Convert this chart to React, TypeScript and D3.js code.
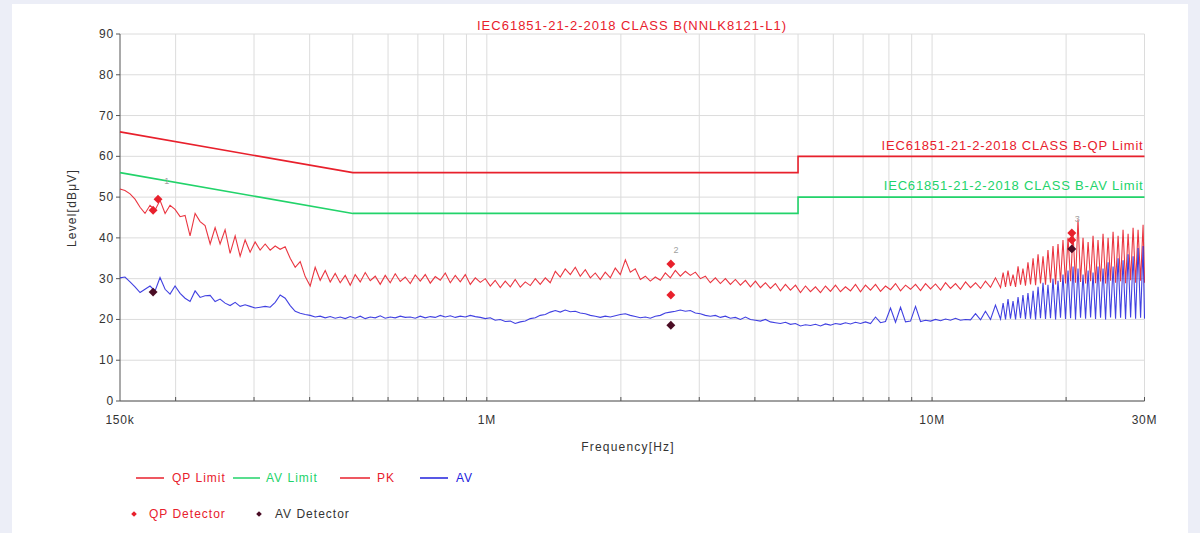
import React from 'react';
import * as d3 from 'd3';

// Sweep frequencies (MHz) shared by PK and AV traces
const sweepMHz: number[] = [
  0.1500, 0.1539, 0.1580, 0.1621, 0.1664, 0.1707, 0.1752, 0.1798, 0.1845, 0.1894,
  0.1943, 0.1994, 0.2047, 0.2100, 0.2155, 0.2212, 0.2270, 0.2329, 0.2391, 0.2453,
  0.2517, 0.2583, 0.2651, 0.2721, 0.2792, 0.2865, 0.2940, 0.3017, 0.3096, 0.3178,
  0.3261, 0.3347, 0.3434, 0.3524, 0.3617, 0.3712, 0.3809, 0.3909, 0.4011, 0.4116,
  0.4224, 0.4335, 0.4449, 0.4565, 0.4685, 0.4808, 0.4934, 0.5063, 0.5196, 0.5332,
  0.5472, 0.5615, 0.5762, 0.5913, 0.6068, 0.6227, 0.6391, 0.6558, 0.6730, 0.6906,
  0.7087, 0.7273, 0.7464, 0.7659, 0.7860, 0.8066, 0.8278, 0.8495, 0.8717, 0.8946,
  0.9180, 0.9421, 0.9668, 0.9921, 1.018, 1.044, 1.072, 1.100, 1.129, 1.158,
  1.189, 1.220, 1.252, 1.285, 1.318, 1.353, 1.388, 1.425, 1.462, 1.500,
  1.540, 1.580, 1.621, 1.664, 1.708, 1.752, 1.798, 1.845, 1.894, 1.943,
  1.994, 2.047, 2.100, 2.155, 2.212, 2.270, 2.329, 2.390, 2.453, 2.517,
  2.583, 2.651, 2.720, 2.792, 2.865, 2.940, 3.017, 3.096, 3.177, 3.261,
  3.346, 3.434, 3.524, 3.616, 3.711, 3.809, 3.909, 4.011, 4.116, 4.224,
  4.335, 4.448, 4.565, 4.685, 4.808, 4.934, 5.063, 5.196, 5.332, 5.472,
  5.615, 5.762, 5.913, 6.068, 6.227, 6.390, 6.558, 6.730, 6.906, 7.087,
  7.273, 7.464, 7.659, 7.860, 8.066, 8.278, 8.495, 8.717, 8.946, 9.180,
  9.421, 9.668, 9.921, 10.18, 10.45, 10.72, 11.00, 11.29, 11.58, 11.89,
  12.20, 12.52, 12.85, 13.18, 13.53, 13.88, 14.25,
  14.44, 14.62, 14.81, 15.00, 15.20, 15.40, 15.60, 15.80, 16.00, 16.21,
  16.42, 16.64, 16.86, 17.08, 17.30, 17.52, 17.75, 17.98, 18.21, 18.45,
  18.69, 18.94, 19.18, 19.43, 19.68, 19.94, 20.20, 20.47, 20.73, 21.00,
  21.27, 21.55, 21.83, 22.12, 22.41, 22.70, 22.99, 23.29, 23.59, 23.90,
  24.21, 24.53, 24.85, 25.17, 25.50, 25.83, 26.17, 26.51, 26.85, 27.20,
  27.56, 27.92, 28.28, 28.65, 29.02, 29.40, 29.78, 30.00,
];

// PK trace (dBuV)
const pkLevels: number[] = [
  52.0, 51.6, 50.8, 49.5, 47.5, 46.0, 48.0, 46.8, 49.2, 46.0,
  48.0, 47.0, 45.2, 45.5, 40.5, 46.0, 44.0, 43.0, 38.5, 42.5,
  38.5, 42.0, 36.2, 40.5, 35.5, 39.5, 36.5, 39.0, 37.0, 38.5,
  37.0, 38.0, 37.2, 37.8, 35.0, 32.8, 34.2, 30.5, 28.2, 32.8,
  29.6, 32.0, 29.2, 31.3, 29.0, 30.8, 28.4, 31.0, 29.2, 31.5,
  29.5, 30.6, 28.6, 30.8, 29.0, 31.2, 29.3, 30.4, 28.8, 30.9,
  29.4, 31.0, 28.9, 30.5, 29.6, 31.4, 29.0, 30.8, 29.2, 31.0,
  28.6, 30.2, 29.1, 30.0, 28.2, 29.6, 27.8, 29.4, 28.0, 29.8,
  27.9, 29.2, 28.3, 30.0, 28.6, 30.2, 29.0, 31.8, 30.4, 32.4,
  31.0, 32.8, 30.6, 32.2, 30.2, 31.4, 29.8, 31.6, 30.2, 32.6,
  31.0, 34.6, 31.6, 32.4, 29.8, 30.6, 29.4, 30.4, 29.6, 31.4,
  30.2, 32.0, 30.6, 31.8, 30.8, 31.6, 30.0, 30.6, 29.0, 30.2,
  28.8, 30.0, 28.6, 29.8, 28.4, 29.6, 28.0, 29.4, 27.8, 29.0,
  27.6, 28.8, 27.0, 28.6, 27.2, 28.4, 26.6, 28.2, 26.8, 28.0,
  26.6, 28.2, 26.9, 28.4, 26.8, 28.0, 27.0, 28.6, 26.8, 28.4,
  27.2, 28.6, 26.9, 28.2, 27.3, 28.8, 27.0, 28.4, 27.4, 28.6,
  27.1, 28.8, 27.5, 28.7, 27.2, 29.0, 27.6, 28.8, 27.4, 29.2,
  27.8, 29.0, 27.6, 29.4, 27.9, 30.2, 27.8,
  31.5, 28.0, 32.0, 28.2, 31.0, 28.0, 33.0, 28.5, 32.5, 28.3,
  34.0, 28.6, 35.0, 28.4, 36.0, 28.8, 35.5, 28.5, 37.0, 29.0,
  38.0, 28.6, 38.5, 29.2, 39.5, 28.8, 40.0, 29.4, 41.0, 29.0,
  44.5, 29.2, 40.0, 28.8, 39.0, 29.4, 40.5, 28.9, 39.5, 29.3,
  41.0, 28.8, 40.0, 29.5, 41.5, 29.0, 40.5, 29.4, 42.0, 28.9,
  41.0, 29.6, 42.5, 29.0, 42.0, 29.5, 43.2, 29.0,
];

// AV trace (dBuV)
const avLevels: number[] = [
  30.2, 30.4, 29.2, 28.0, 26.6, 27.4, 28.2, 27.0, 30.3, 27.4,
  26.2, 28.2, 26.4, 25.2, 24.4, 27.0, 25.4, 25.8, 25.9, 24.4,
  25.0, 24.0, 23.4, 24.2, 23.2, 23.6, 23.2, 22.8, 23.0, 23.2,
  23.0, 24.2, 26.0, 25.2, 23.4, 22.0, 21.5, 21.2, 21.0, 20.6,
  20.8, 20.4, 20.7, 20.3, 20.6, 20.2, 20.7, 20.3, 20.8, 20.2,
  20.6, 20.4, 20.9, 20.3, 20.6, 20.4, 20.8, 20.5, 20.6, 20.3,
  20.8, 20.4, 20.7, 20.5, 21.0, 20.6, 20.9, 20.5, 20.8, 20.6,
  21.0, 20.7, 20.5, 20.2, 20.4, 19.8, 20.0, 19.5, 19.6, 19.0,
  19.4, 19.6, 20.2, 20.4, 21.0, 21.2, 21.8, 22.2, 21.8, 22.3,
  21.9, 22.0, 21.6, 21.4, 21.0, 20.8, 20.5, 20.8, 20.6, 20.9,
  21.2, 21.4, 21.0, 20.7, 20.4, 20.6, 20.3, 20.8, 21.0, 21.6,
  21.8, 22.0, 22.3, 22.0, 22.2, 21.6, 21.4, 21.0, 20.8, 21.0,
  20.5, 20.8, 20.3, 20.5, 20.0, 20.6, 20.0, 19.8, 19.6, 20.0,
  19.4, 19.2, 19.0, 19.3, 18.8, 19.0, 18.4, 18.7, 18.5, 18.8,
  18.4, 18.9, 18.6, 19.0, 18.8, 19.2, 18.9, 19.3, 19.0, 19.4,
  19.0, 20.6, 19.2, 19.5, 22.8, 19.3, 23.0, 19.4, 19.6, 23.2,
  19.5, 19.8, 19.6, 20.0, 19.7, 20.1, 19.8, 20.3, 19.8, 20.0,
  19.9, 21.4, 19.9, 22.0, 20.0, 23.5, 20.1,
  24.0, 20.0, 25.0, 20.2, 24.5, 20.0, 25.5, 20.3, 26.0, 20.1,
  26.5, 20.2, 27.0, 20.0, 28.0, 20.3, 29.0, 20.1, 28.5, 20.3,
  30.0, 20.0, 29.5, 20.4, 31.0, 20.1, 32.0, 20.3, 33.0, 20.0,
  32.5, 20.4, 31.0, 20.2, 32.0, 20.5, 31.5, 20.1, 33.0, 20.4,
  32.5, 20.0, 34.0, 20.5, 33.0, 20.2, 35.0, 20.4, 34.5, 20.1,
  36.0, 20.5, 35.5, 20.2, 37.5, 20.4, 38.0, 20.2,
];

// Limit lines [MHz, dBuV]
const qpLimit: [number, number][] = [[0.15, 66], [0.5, 56], [5, 56], [5, 60], [30, 60]];
const avLimit: [number, number][] = [[0.15, 56], [0.5, 46], [5, 46], [5, 50], [30, 50]];

// Final detector readings [MHz, dBuV]
const qpDetector: [number, number][] = [
  [0.178, 46.8], [0.1826, 49.5], [2.59, 33.6], [2.59, 26.0], [20.6, 41.2], [20.6, 39.5],
];
const avDetector: [number, number][] = [[0.178, 26.7], [2.59, 18.6], [20.6, 37.3]];
const markerTags = [
  { f: 0.191, level: 53.2, text: '1' },
  { f: 2.66, level: 36.4, text: '2' },
  { f: 21.2, level: 43.8, text: '3' },
];

const yTicks = [0, 10, 20, 30, 40, 50, 60, 70, 80, 90];
const xTickLabels = [
  { v: 0.15, label: '150k' },
  { v: 1, label: '1M' },
  { v: 10, label: '10M' },
  { v: 30, label: '30M' },
];

const TITLE = 'IEC61851-21-2-2018 CLASS B(NNLK8121-L1)';
const QP_LABEL = 'IEC61851-21-2-2018 CLASS B-QP Limit';
const AV_LABEL = 'IEC61851-21-2-2018 CLASS B-AV Limit';

const RED = '#e8202c';
const GREEN = '#22d36a';
const BLUE = '#2020dc';
const DARK = '#4a0c24';
const FONT = '"Liberation Sans", Arial, sans-serif';

const App: React.FC = () => {
  const W = 1200, H = 533;
  const left = 120, right = 1144.5, top = 34, bottom = 401;

  const x = d3.scaleLog().domain([0.15, 30]).range([left, right]);
  const y = d3.scaleLinear().domain([0, 90]).range([bottom, top]);

  const line = d3.line<[number, number]>().x(d => x(d[0])).y(d => y(d[1]));
  const pk: [number, number][] = sweepMHz.map((f, i) => [f, pkLevels[Math.min(i, pkLevels.length - 1)]]);
  const av: [number, number][] = sweepMHz.map((f, i) => [f, avLevels[Math.min(i, avLevels.length - 1)]]);

  const gridX = x.ticks();
  const diamond = d3.symbol().type(d3.symbolSquare).size(40)()!;
  const smallDiamond = d3.symbol().type(d3.symbolSquare).size(16)()!;

  return (
    <div style={{ position: 'absolute', left: 0, top: 0 }}>
      <svg width={W} height={H} style={{ display: 'block', fontFamily: FONT }}>
        <rect width={W} height={H} fill="#eceef7" />
        <rect x={12} y={4} width={1176} height={H - 4} fill="#ffffff" />

        {/* grid */}
        <g stroke="#dcdcdc" strokeWidth={1}>
          {yTicks.map(t => (
            <line key={'gy' + t} x1={left} x2={right} y1={y(t)} y2={y(t)} />
          ))}
          {gridX.map(t => (
            <line key={'gx' + t} x1={x(t)} x2={x(t)} y1={top} y2={bottom} />
          ))}
        </g>

        {/* axes */}
        <g stroke="#555" strokeWidth={1}>
          <line x1={left} x2={left} y1={top} y2={bottom} />
          <line x1={left} x2={right} y1={bottom} y2={bottom} />
          {yTicks.map(t => (
            <line key={'ty' + t} x1={left - 4} x2={left} y1={y(t)} y2={y(t)} />
          ))}
          {gridX.map(t => (
            <line key={'tx' + t} x1={x(t)} x2={x(t)} y1={bottom} y2={bottom - 4} />
          ))}
        </g>
        <g fill="#333" fontSize={12} letterSpacing={0.8}>
          {yTicks.map(t => (
            <text key={'ly' + t} x={left - 6} y={y(t) + 4} textAnchor="end">{t}</text>
          ))}
          {xTickLabels.map(t => (
            <text key={'lx' + t.label} x={x(t.v)} y={424} textAnchor="middle">{t.label}</text>
          ))}
          <text x={628} y={451} textAnchor="middle" letterSpacing={1.2}>Frequency[Hz]</text>
          <text transform="translate(76,208) rotate(-90)" textAnchor="middle" letterSpacing={1.2}>Level[dBμV]</text>
        </g>

        {/* title */}
        <text x={632} y={30} textAnchor="middle" fill={RED} fontSize={13} letterSpacing={1}>{TITLE}</text>

        {/* limits */}
        <path d={line(qpLimit) ?? ''} fill="none" stroke={RED} strokeWidth={1.6} />
        <path d={line(avLimit) ?? ''} fill="none" stroke={GREEN} strokeWidth={1.6} />
        <text x={right - 1} y={y(60) - 6} textAnchor="end" fill={RED} fontSize={13} letterSpacing={0.8}>{QP_LABEL}</text>
        <text x={right - 1} y={y(50) - 7} textAnchor="end" fill={GREEN} fontSize={13} letterSpacing={0.8}>{AV_LABEL}</text>

        {/* traces */}
        <path d={line(pk) ?? ''} fill="none" stroke={RED} strokeWidth={1.1} strokeOpacity={0.9} />
        <path d={line(av) ?? ''} fill="none" stroke={BLUE} strokeWidth={1.1} strokeOpacity={0.85} />

        {/* detector markers */}
        {qpDetector.map((d, i) => (
          <path key={'qp' + i} d={diamond} fill={RED}
            transform={`translate(${x(d[0])},${y(d[1])}) rotate(45)`} />
        ))}
        {avDetector.map((d, i) => (
          <path key={'av' + i} d={diamond} fill={DARK}
            transform={`translate(${x(d[0])},${y(d[1])}) rotate(45)`} />
        ))}
        {markerTags.map(m => (
          <text key={'mt' + m.text} x={x(m.f)} y={y(m.level)} fill="#a0a0a0" fontSize={9}
            textAnchor="middle">{m.text}</text>
        ))}

        {/* legend */}
        <g fontSize={12} letterSpacing={1}>
          <line x1={136} x2={164} y1={478} y2={478} stroke={RED} strokeWidth={1.5} />
          <text x={172} y={482} fill={RED}>QP Limit</text>
          <line x1={233} x2={260} y1={478} y2={478} stroke={GREEN} strokeWidth={1.5} />
          <text x={266} y={482} fill={GREEN}>AV Limit</text>
          <line x1={340} x2={370} y1={478} y2={478} stroke={RED} strokeWidth={1.5} />
          <text x={377} y={482} fill={RED}>PK</text>
          <line x1={420} x2={448} y1={478} y2={478} stroke={BLUE} strokeWidth={1.5} />
          <text x={456} y={482} fill={BLUE}>AV</text>

          <path d={smallDiamond} fill={RED} transform="translate(134,514) rotate(45)" />
          <text x={149} y={518} fill={RED}>QP Detector</text>
          <path d={smallDiamond} fill={DARK} transform="translate(259,514) rotate(45)" />
          <text x={275} y={518} fill="#333">AV Detector</text>
        </g>
      </svg>
    </div>
  );
};

export default App;
